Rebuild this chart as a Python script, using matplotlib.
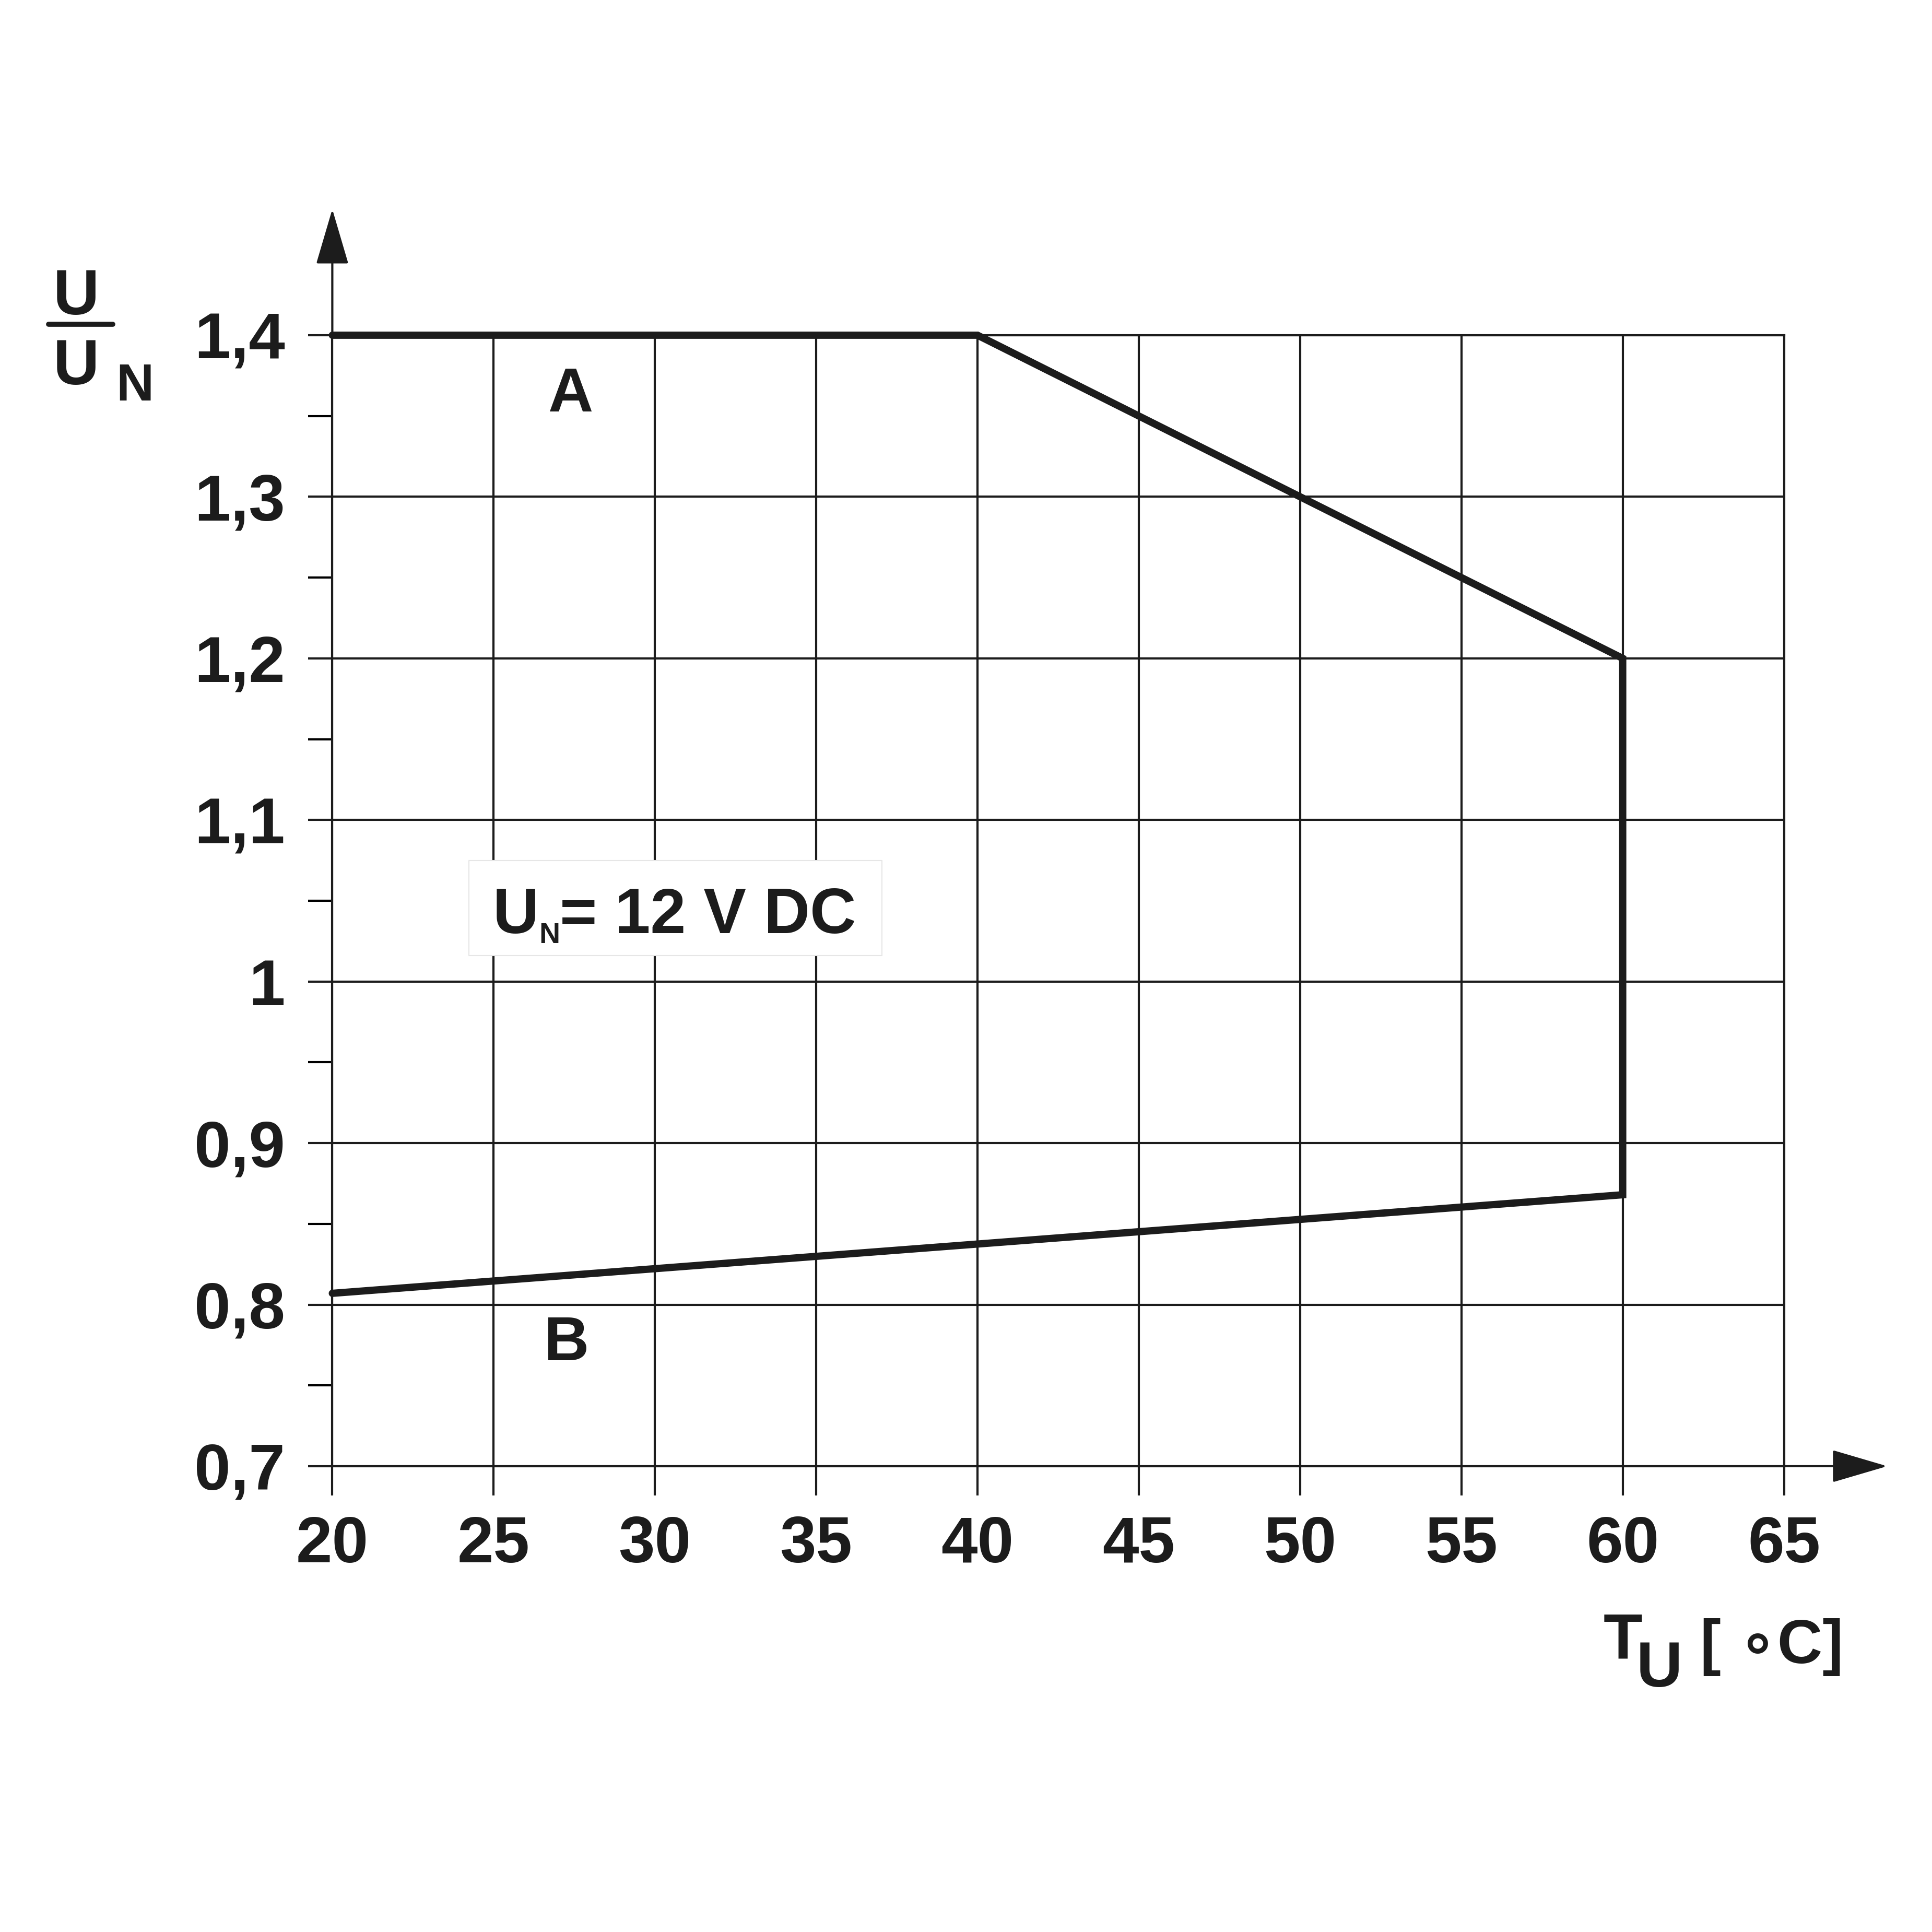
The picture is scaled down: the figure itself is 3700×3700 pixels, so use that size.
import matplotlib
matplotlib.use('Agg')
import matplotlib.pyplot as plt

# derating curve: A (upper limit) then B (lower limit), one polyline
temp = [20, 40, 60, 60, 20]
ratio = [1.4, 1.4, 1.2, 0.868, 0.807]

x_ticks = [20, 25, 30, 35, 40, 45, 50, 55, 60, 65]
y_ticks = [0.7, 0.8, 0.9, 1.0, 1.1, 1.2, 1.3, 1.4]
y_ticklabels = ['0,7', '0,8', '0,9', '1', '1,1', '1,2', '1,3', '1,4']
y_minor = [0.75, 0.85, 0.95, 1.05, 1.15, 1.25, 1.35]

ink = '#1c1c1c'
fam = ['Liberation Sans', 'DejaVu Sans']
plt.rcParams['font.family'] = fam
plt.rcParams['font.weight'] = 'bold'

fig = plt.figure(figsize=(37, 37), dpi=100)
ax = fig.add_axes([0.172, 0.2411, 0.7514, 0.5854])
ax.set_xlim(20, 65)
ax.set_ylim(0.7, 1.4)

grid_lw = 3.0
for s in ax.spines.values():
    s.set_linewidth(grid_lw)
    s.set_color(ink)

ax.set_xticks(x_ticks)
ax.set_xticklabels([str(t) for t in x_ticks])
ax.set_yticks(y_ticks)
ax.set_yticklabels(y_ticklabels)
ax.set_yticks(y_minor, minor=True)
ax.tick_params(axis='x', which='major', direction='out', length=40, width=grid_lw,
               pad=28, labelsize=90, colors=ink, top=False)
ax.tick_params(axis='y', which='major', direction='out', length=33, width=grid_lw,
               pad=32, labelsize=90, colors=ink, right=False)
ax.tick_params(axis='y', which='minor', direction='out', length=33, width=grid_lw,
               right=False)
for lab in ax.get_xticklabels() + ax.get_yticklabels():
    lab.set_fontweight('bold')
ax.grid(True, which='major', color=ink, linewidth=grid_lw)

ax.plot(temp, ratio, color=ink, lw=10, solid_joinstyle='miter',
        solid_capstyle='round', zorder=5, clip_on=False)

# axis arrows
arrow = dict(arrowstyle='-|>,head_length=0.68,head_width=0.2', mutation_scale=100,
             lw=grid_lw, color=ink, shrinkA=0, shrinkB=0)
ax.annotate('', xy=(20, 1.478), xytext=(20, 1.4), arrowprops=arrow,
            annotation_clip=False)
ax.annotate('', xy=(68.2, 0.7), xytext=(65, 0.7), arrowprops=arrow,
            annotation_clip=False)

# curve labels
ax.text(27.37, 1.3626, 'A', fontsize=86, fontweight='bold', color=ink,
        ha='center', va='center')
ax.text(27.26, 0.7756, 'B', fontsize=86, fontweight='bold', color=ink,
        ha='center', va='center')

# nominal voltage box
ax.fill_between([24.24, 37.04], 1.016, 1.075, color='white', ec='#e6e6e6',
                lw=1.5, zorder=3)
ax.text(24.97, 1.0298, 'U', fontsize=88, fontweight='bold', color=ink,
        ha='left', va='baseline', zorder=4)
ax.text(26.4, 1.0237, 'N', fontsize=40, fontweight='bold', color=ink,
        ha='left', va='baseline', zorder=4)
ax.text(27.05, 1.0298, '= 12 V DC', fontsize=88, fontweight='bold', color=ink,
        ha='left', va='baseline', zorder=4)

# y axis label U / U_N
ax.text(12.06, 1.413, 'U', fontsize=88, fontweight='bold', color=ink,
        ha='center', va='baseline', clip_on=False)
ax.plot([11.2, 13.2], [1.4069, 1.4069], color=ink, lw=7, solid_capstyle='round',
        clip_on=False)
ax.text(12.06, 1.3695, 'U', fontsize=88, fontweight='bold', color=ink,
        ha='center', va='baseline', clip_on=False)
ax.text(13.3, 1.3595, 'N', fontsize=72, fontweight='bold', color=ink,
        ha='left', va='baseline', clip_on=False)

# x axis label T_U [°C]
ax.text(60.0, 0.581, 'T', fontsize=88, fontweight='bold', color=ink,
        ha='center', va='baseline', clip_on=False)
ax.text(61.14, 0.5635, 'U', fontsize=88, fontweight='bold', color=ink,
        ha='center', va='baseline', clip_on=False)
ax.text(62.4, 0.578, '[ \u2218C]', fontsize=86, fontweight='bold', color=ink,
        ha='left', va='baseline', clip_on=False, family=fam)

fig.savefig('out.png', dpi=100, facecolor='white')
